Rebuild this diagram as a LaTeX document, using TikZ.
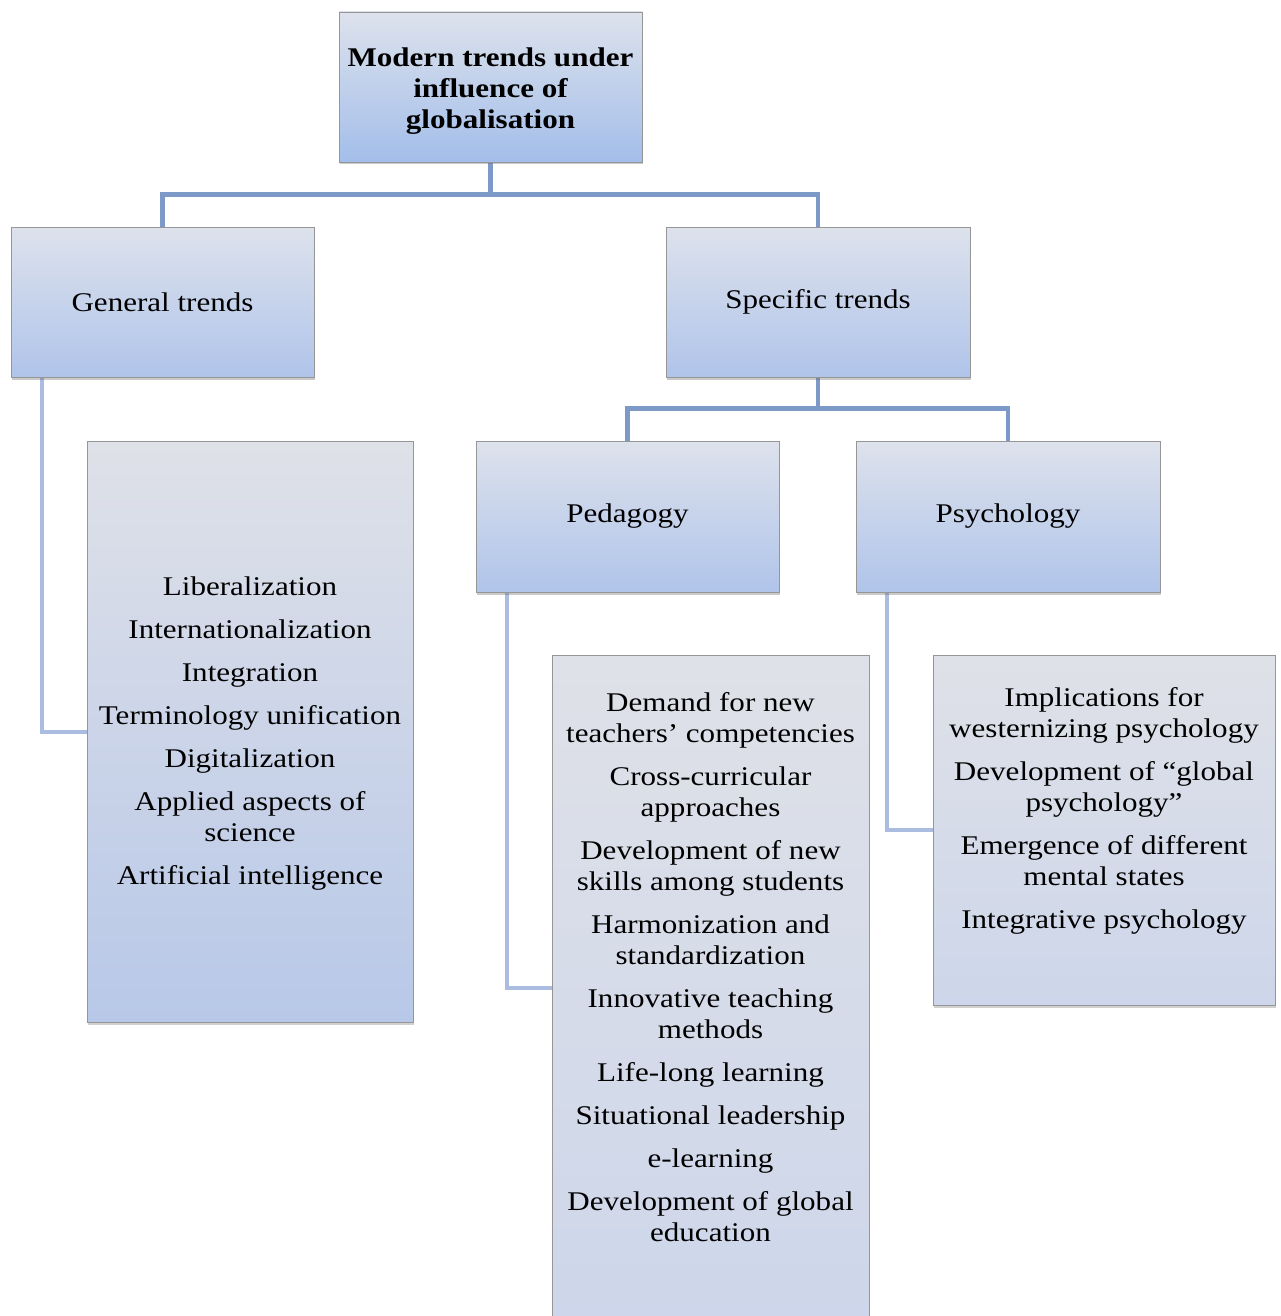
\documentclass[tikz,border=0pt]{standalone}
\usepackage{fontspec}
\setmainfont[FakeStretch=1.15]{Liberation Serif}
\usetikzlibrary{shadows,backgrounds}
\definecolor{linedark}{RGB}{124,153,200}
\definecolor{linelight}{RGB}{170,189,224}
\definecolor{boxtop}{RGB}{221,226,236}
\definecolor{boxbot}{RGB}{176,196,234}
\definecolor{topbot}{RGB}{163,190,234}
\definecolor{listtop}{RGB}{223,225,232}
\definecolor{listbot}{RGB}{184,200,232}
\definecolor{listbotl}{RGB}{205,214,234}
\definecolor{edge}{RGB}{150,150,150}
\tikzset{
  hbox/.style={rectangle, draw=edge, line width=0.8pt, top color=boxtop, bottom color=boxbot,
    drop shadow={shadow xshift=1pt, shadow yshift=-2.5pt, opacity=0.35, fill=black!60},
    align=center, inner sep=4pt},
  lbox/.style={rectangle, draw=edge, line width=0.8pt, top color=listtop, bottom color=listbot,
    drop shadow={shadow xshift=1pt, shadow yshift=-2.5pt, opacity=0.3, fill=black!60}},
  ltext/.style={align=center, font=\fontsize{27}{31}\selectfont},
  conn/.style={draw=linedark, line width=4.5pt},
  connl/.style={draw=linelight, line width=4pt},
}
\begin{document}
\begin{tikzpicture}[x=1pt,y=-1pt]
\useasboundingbox (0,0) rectangle (1281,1316);
\node[hbox, bottom color=topbot, minimum width=303pt, minimum height=150pt, font=\bfseries\fontsize{27}{31}\selectfont] (top) at (490.5,87) {\rule{0pt}{26pt}Modern trends under\\influence of\\globalisation};
\node[hbox, minimum width=303pt, minimum height=150pt, font=\fontsize{27}{31}\selectfont] (gen) at (162.5,302) {General trends};
\node[hbox, minimum width=304pt, minimum height=150pt, font=\fontsize{27}{31}\selectfont] (spec) at (818,302) {Specific trends};
\node[hbox, minimum width=303pt, minimum height=151pt, font=\fontsize{27}{31}\selectfont] (ped) at (627.5,516.5) {Pedagogy};
\node[hbox, minimum width=304pt, minimum height=151pt, font=\fontsize{27}{31}\selectfont] (psy) at (1008,516.5) {Psychology};
\node[lbox, minimum width=326pt, minimum height=581pt] (genlist) at (250,731.5) {};
\node[lbox, bottom color=listbotl, minimum width=317pt, minimum height=665pt] (pedlist) at (710.5,987.5) {};
\node[lbox, bottom color=listbotl, minimum width=342pt, minimum height=350pt] (psylist) at (1104,830) {};
% connectors
\begin{scope}[on background layer]
\draw[conn] (top.south) -- ++(0,32) coordinate (j1);
\draw[conn] (gen.north) |- (j1) -| (spec.north);
\draw[conn] (spec.south) -- ++(0,31) coordinate (j2);
\draw[conn] (ped.north) |- (j2) -| (psy.north);
\draw[connl] ([xshift=31pt]gen.south west) |- (genlist.west);
\draw[connl] ([xshift=31pt]ped.south west) |- (pedlist.west);
\draw[connl] ([xshift=31pt]psy.south west) |- (psylist.west);
\end{scope}
% list texts
\node[ltext] (gentext) at (250,734) {Liberalization\\[12pt]Internationalization\\[12pt]Integration\\[12pt]Terminology unification\\[12pt]Digitalization\\[12pt]Applied aspects of\\science\\[12pt]Artificial intelligence};
\node[ltext] (pedtext) at (710.5,967) {Demand for new\\teachers’ competencies\\[12pt]Cross-curricular\\approaches\\[12pt]Development of new\\skills among students\\[12pt]Harmonization and\\standardization\\[12pt]Innovative teaching\\methods\\[12pt]Life-long learning\\[12pt]Situational leadership\\[12pt]e-learning\\[12pt]Development of global\\education};
\node[ltext] (psytext) at (1104,811) {Implications for\\westernizing psychology\\[12pt]Development of “global\\psychology”\\[12pt]Emergence of different\\mental states\\[12pt]Integrative psychology};
\end{tikzpicture}
\end{document}
